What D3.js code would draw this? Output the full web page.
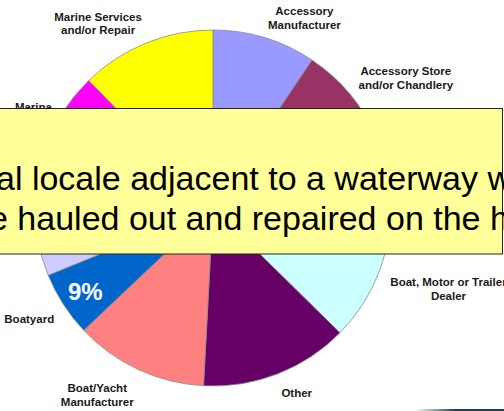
<!DOCTYPE html>
<html lang="en">
<head>
    <meta charset="utf-8">
    <title>Business type pie</title>
    <script type="text/javascript" src="https://cdn.jsdelivr.net/npm/d3@7"></script>
    <style type="text/css">
        body { margin: 0; background: #fff; }
        svg { display: block; }
    </style>
</head>
<body>
    <script type="text/javascript">

			//Slices, clockwise from 12 o'clock
			var categories = [
				"Accessory\nManufacturer",
				"Accessory Store\nand/or Chandlery",
				"Boat Rental\nand/or Charter",
				"Boat, Motor or Trailer\nDealer",
				"Other",
				"Boat/Yacht\nManufacturer",
				"Boatyard",
				"Insurance",
				"Marine\nElectronics",
				"Marina",
				"Marine Services\nand/or Repair"
			];
			var shares = [9.4, 9.2, 5.3, 13.5, 13.5, 12.1, 5.9, 6.8, 4.2, 7.9, 12.3];
			var pctLabels = [null, null, null, null, null, null, "9%", null, null, null, null];

			//Callout text lines (visible part)
			var calloutLines = [
				"al locale adjacent to a waterway w",
				"e hauled out and repaired on the h"
			];

			//Width and height
			var w = 504;
			var h = 411;
			var cx = 213, cy = 208, r = 178;

			var color = d3.scaleOrdinal()
				.domain(d3.range(categories.length))
				.range(["#9999FF", "#993366", "#FFFFCC", "#CCFFFF", "#660066", "#FF8080",
				        "#0066CC", "#CCCCFF", "#000080", "#FF00FF", "#FFFF00"]);

			var svg = d3.select("body")
						.append("svg")
						.attr("width", w)
						.attr("height", h);

			var data = categories.map(function(c, i) {
				return { name: c, value: shares[i], pct: pctLabels[i], i: i };
			});

			var pie = d3.pie()
				.sort(null)
				.value(function(d) { return d.value; });

			var arc = d3.arc().innerRadius(0).outerRadius(r);
			var pctArc = d3.arc().innerRadius(152).outerRadius(152);

			var g = svg.append("g").attr("transform", "translate(" + cx + "," + cy + ")");
			var arcs = pie(data);

			g.selectAll("path")
			   .data(arcs)
			   .enter()
			   .append("path")
			   .attr("d", arc)
			   .style("fill", function(d) { return color(d.data.i); })
			   .style("stroke", "#8a8a8a")
			   .style("stroke-width", "0.8");

			//Percent labels inside slices
			g.selectAll("text.pct")
			   .data(arcs.filter(function(d) { return d.data.pct; }))
			   .enter()
			   .append("text")
			   .attr("class", "pct")
			   .attr("transform", function(d) { return "translate(" + pctArc.centroid(d) + ")"; })
			   .attr("dy", "0.42em")
			   .attr("text-anchor", "middle")
			   .style("font-family", "'Liberation Sans', Arial, sans-serif")
			   .style("font-weight", "bold")
			   .style("font-size", "24px")
			   .style("fill", "#fff")
			   .text(function(d) { return d.data.pct; });

			//Category labels outside, anchored by the corner nearest the slice
			var R = 189, lineH = 13.5, capH = 8.3, shiftY = 4.5;
			g.selectAll("text.cat")
			   .data(arcs)
			   .enter()
			   .append("text")
			   .attr("class", "cat")
			   .style("font-family", "'Liberation Sans', Arial, sans-serif")
			   .style("font-weight", "bold")
			   .style("font-size", "11.5px")
			   .style("fill", "#1a1a1a")
			   .each(function(d) {
			   		var t = d3.select(this);
			   		var lines = d.data.name.split("\n");
			   		var spans = lines.map(function(l) { return t.append("tspan").text(l); });
			   		var bw = d3.max(spans, function(s) { return s.node().getComputedTextLength(); });
			   		var bh = capH + lineH * (lines.length - 1) + 3;
			   		var mid = (d.startAngle + d.endAngle) / 2;
			   		var px = R * Math.sin(mid), py = -R * Math.cos(mid);
			   		var left = Math.sin(mid) >= 0 ? px : px - bw;
			   		var top = (Math.cos(mid) >= 0 ? py - bh : py) + shiftY;
			   		spans.forEach(function(s, k) {
			   			s.attr("x", left + bw / 2)
			   			 .attr("y", top + capH + k * lineH)
			   			 .attr("text-anchor", "middle");
			   		});
			   });

			//Yellow callout box over the chart
			svg.append("rect")
				.attr("x", -2)
				.attr("y", 108.5)
				.attr("width", 504.5)
				.attr("height", 145.5)
				.style("fill", "#FFFF99")
				.style("stroke", "#222")
				.style("stroke-width", "1");

			svg.selectAll("text.callout")
				.data(calloutLines)
				.enter()
				.append("text")
				.attr("class", "callout")
				.attr("x", function(d, i) { return i === 0 ? -4 : -11; })
				.attr("y", function(d, i) { return 190 + i * 40; })
				.style("font-family", "'Liberation Sans', Arial, sans-serif")
				.style("font-size", "34px")
				.style("fill", "#000")
				.text(function(d) { return d; });

			//Faded rule at bottom right
			var grad = svg.append("defs").append("linearGradient").attr("id", "fade");
			grad.append("stop").attr("offset", "0%").attr("stop-color", "#1f3f4f").attr("stop-opacity", 0);
			grad.append("stop").attr("offset", "45%").attr("stop-color", "#1f3f4f").attr("stop-opacity", 1);
			grad.append("stop").attr("offset", "100%").attr("stop-color", "#1f3f4f").attr("stop-opacity", 1);
			svg.append("rect")
				.attr("x", 415)
				.attr("y", 409)
				.attr("width", 89)
				.attr("height", 2)
				.style("fill", "url(#fade)");

    </script>
</body>
</html>
